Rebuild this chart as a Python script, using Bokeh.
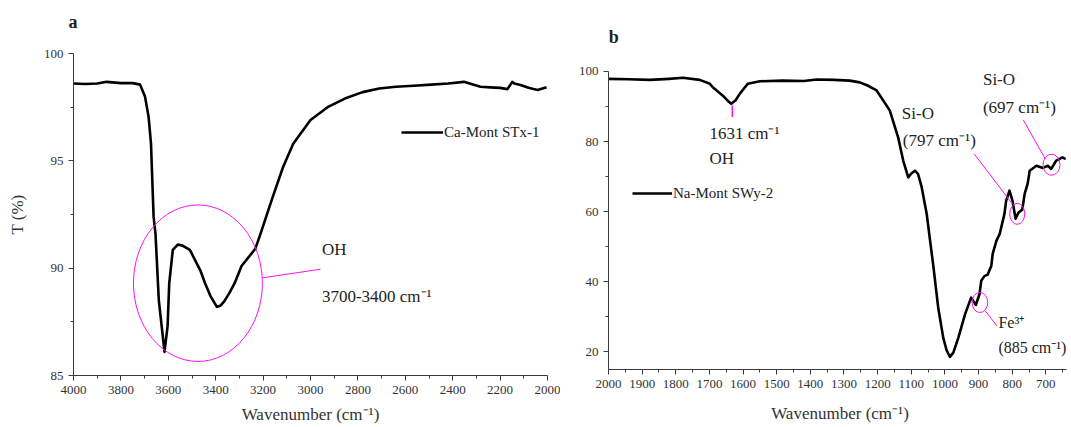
from bokeh.plotting import figure
from bokeh.models import Range1d, FixedTicker, Label, Legend, LegendItem, ColumnDataSource
from bokeh.layouts import row
from bokeh.embed import file_html
from bokeh.resources import INLINE

# ---------------- data ----------------
# Panel a : Ca-Mont STx-1
a_wavenumber = [4000, 3950, 3900, 3860, 3800, 3750, 3719, 3698, 3683, 3673, 3662, 3654, 3640,
                3622, 3616, 3603, 3596, 3581, 3560, 3540, 3509, 3465, 3445, 3422, 3395, 3380,
                3364, 3342, 3320, 3291, 3233, 3211, 3160, 3116, 3073, 3000, 2928, 2855, 2780,
                2710, 2640, 2565, 2490, 2419, 2353, 2283, 2241, 2200, 2169, 2149, 2140, 2114,
                2080, 2042, 2004]
a_T = [98.6, 98.58, 98.6, 98.68, 98.62, 98.62, 98.55, 97.98, 97.04, 95.8, 92.4, 91.6, 88.5,
       86.7, 86.1, 87.3, 89.3, 90.85, 91.1, 91.05, 90.85, 89.9, 89.3, 88.7, 88.2, 88.25,
       88.45, 88.85, 89.3, 90.1, 90.9, 91.6, 93.3, 94.7, 95.8, 96.9, 97.5, 97.9, 98.2,
       98.37, 98.45, 98.5, 98.55, 98.6, 98.68, 98.45, 98.42, 98.4, 98.34, 98.68, 98.6, 98.53,
       98.4, 98.3, 98.43]
a_label = "Ca-Mont STx-1"
a_xticks = [4000, 3800, 3600, 3400, 3200, 3000, 2800, 2600, 2400, 2200, 2000]
a_xticklabels = ["4000", "3800", "3600", "3400", "3200", "3000", "2800", "2600", "2400", "2200", "2000"]
a_yticks = [85, 90, 95, 100]
a_yticklabels = ["85", "90", "95", "100"]

# Panel b : Na-Mont SWy-2
b_wavenumber = [2000, 1940, 1877, 1820, 1779, 1729, 1700, 1690, 1660, 1645, 1635, 1622, 1610,
                1586, 1550, 1482, 1420, 1381, 1330, 1283, 1253, 1230, 1203, 1164, 1139, 1124,
                1109, 1100, 1089, 1080, 1069, 1054, 1044, 1035, 1020, 1005, 995, 985, 975, 960,
                940, 922, 915, 908, 897, 892, 882, 873, 862, 858, 847, 837, 823, 818, 808, 799,
                790, 781, 770, 763, 754, 748, 728, 709, 694, 684, 669, 651, 641]
b_T = [97.9, 97.8, 97.6, 97.9, 98.2, 97.6, 96.6, 95.5, 93.1, 91.6, 90.8, 91.8, 93.6,
       96.5, 97.2, 97.4, 97.3, 97.7, 97.6, 97.4, 96.9, 96.0, 94.6, 88.9, 81.2, 74.6,
       69.8, 70.9, 71.7, 70.8, 67.0, 59.3, 51.7, 45.0, 32.7, 24.1, 20.5, 18.6, 19.8, 24.1,
       30.8, 35.5, 34.5, 33.4, 36.6, 40.3, 41.7, 42.0, 44.6, 48.0, 51.7, 53.7, 59.4, 63.1, 66.0, 63.1,
       58.0, 59.8, 60.6, 65.1, 68.0, 71.7, 73.1, 72.5, 73.1, 72.2, 74.6, 75.5, 75.0]
b_label = "Na-Mont SWy-2"
b_xticks = [2000, 1900, 1800, 1700, 1600, 1500, 1400, 1300, 1200, 1100, 1000, 900, 800, 700]
b_xticklabels = [str(v) for v in b_xticks]
b_yticks = [20, 40, 60, 80, 100]
b_yticklabels = ["20", "40", "60", "80", "100"]

FONT = "Liberation Serif"
PINK = "#ff10f0"
AXC = "#3a3a3a"


def make_fig(width, xr, yr, xb, yb, mbl, mbr, mbt, mbb, title=None):
    p = figure(width=width, height=427, x_range=Range1d(*xr), y_range=Range1d(*yr),
               output_backend="svg", toolbar_location=None, title=title,
               min_border_left=mbl, min_border_right=mbr, min_border_top=mbt,
               min_border_bottom=mbb)
    p.frame_align = False
    p.outline_line_color = None
    p.grid.visible = False
    p.background_fill_color = "white"
    p.xaxis.bounds = xb
    p.yaxis.bounds = yb
    for ax in (p.xaxis[0], p.yaxis[0]):
        ax.axis_line_color = AXC
        ax.axis_line_width = 1
        ax.major_tick_line_color = AXC
        ax.minor_tick_line_color = AXC
        ax.major_tick_in = 0
        ax.major_tick_out = 5
        ax.minor_tick_in = 0
        ax.minor_tick_out = 3
        ax.major_label_text_font = FONT
        ax.major_label_text_font_size = "13px"
        ax.major_label_text_color = "#333333"
        ax.axis_label_text_font = FONT
        ax.axis_label_text_font_style = "normal"
        ax.axis_label_text_font_size = "17px"
        ax.axis_label_text_color = "#333333"
    return p


def set_ticks(axis, ticks, labels, minor):
    axis.ticker = FixedTicker(ticks=ticks, minor_ticks=minor)
    axis.major_label_overrides = {t: l for t, l in zip(ticks, labels)}


def add_text(p, x, y, text, size, bold=False):
    p.add_layout(Label(x=x, y=y, text=text, text_font=FONT, text_font_size=size,
                       text_color="#222222", text_baseline="middle", text_align="left",
                       text_font_style="bold" if bold else "normal"))


# ---------------- panel a ----------------
pa = make_fig(560, (4000, 2000), (85, 100), (2000, 4000), (85, 100), 73, 13, 53, 52,
              title="a\n\u00a0")
pa.title.text_font = FONT
pa.title.text_font_style = "bold"
pa.title.text_font_size = "18px"
pa.title.text_color = "#222222"
pa.title.align = "left"
pa.title.vertical_align = "top"
pa.title.standoff = 0
pa.title.offset = -5
set_ticks(pa.xaxis[0], a_xticks, a_xticklabels, list(range(3900, 2000, -200)))
set_ticks(pa.yaxis[0], a_yticks, a_yticklabels, [87.5, 92.5, 97.5])
pa.xaxis.axis_label = "Wavenumber (cm\u207b\u00b9)"
pa.yaxis.axis_label = "T (%)"
pa.xaxis.axis_label_standoff = 8
pa.yaxis.axis_label_standoff = 14

src_a = ColumnDataSource(dict(x=a_wavenumber, y=a_T))
ra = pa.line("x", "y", source=src_a, line_color="black", line_width=2.6, line_join="round")
pa.ellipse(x=3475, y=89.3, width=544, height=7.29, fill_alpha=0, line_color=PINK, line_width=1)
pa.segment(x0=3203, y0=89.55, x1=2958, y1=89.95, line_color=PINK, line_width=1)
add_text(pa, 2952, 90.88, "OH", "17px")
add_text(pa, 2952, 88.68, "3700-3400 cm\u207b\u00b9", "17px")

leg_a = Legend(items=[LegendItem(label=a_label, renderers=[ra])], location=(328, 233),
               glyph_width=42, glyph_height=20, label_height=20, label_standoff=1,
               padding=0, margin=0, spacing=0, background_fill_alpha=0, border_line_alpha=0,
               label_text_font=FONT, label_text_font_size="15px", label_text_color="#222222")
pa.add_layout(leg_a)

# ---------------- panel b ----------------
pb = make_fig(511, (2000, 623.7), (15, 118.82), (640, 2000), (15, 100), 48, 0, 5, 58)
set_ticks(pb.xaxis[0], b_xticks, b_xticklabels, list(range(1950, 640, -100)))
set_ticks(pb.yaxis[0], b_yticks, b_yticklabels, [30, 50, 70, 90])
pb.xaxis.axis_label = "Wavenumber (cm\u207b\u00b9)"
pb.xaxis.axis_label_standoff = 13

src_b = ColumnDataSource(dict(x=b_wavenumber, y=b_T))
rb = pb.line("x", "y", source=src_b, line_color="black", line_width=2.6, line_join="round")

# annotations panel b
pb.segment(x0=1632, y0=90.3, x1=1632, y1=87.0, line_color=PINK, line_width=1.5)
add_text(pb, 1700, 82.2, "1631 cm\u207b\u00b9", "17px")
add_text(pb, 1700, 75.1, "OH", "17px")
add_text(pb, 1128, 87.9, "Si-O", "17px")
add_text(pb, 1125, 80.3, "(797 cm\u207b\u00b9)", "17px")
add_text(pb, 887, 97.6, "Si-O", "17px")
add_text(pb, 887, 89.8, "(697 cm\u207b\u00b9)", "17px")
add_text(pb, 841, 28.4, "Fe\u00b3\u207a", "16px")
add_text(pb, 841, 21.2, "(885 cm\u207b\u00b9)", "16px")
add_text(pb, 1999, 109.7, "b", "18px", bold=True)
pb.ellipse(x=[683, 785, 896], y=[73.4, 59.4, 34.1], width=[50.5, 44.6, 46.6],
           height=[6.0, 6.0, 5.7], fill_alpha=0, line_color=PINK, line_width=1)
pb.segment(x0=[767, 913, 880], y0=[86.2, 76.5, 31.7], x1=[702, 800, 845], y1=[75.1, 62.3, 27.4],
           line_color=PINK, line_width=1)

leg_b = Legend(items=[LegendItem(label=b_label, renderers=[rb])], location=(24, 166),
               glyph_width=40, glyph_height=20, label_height=20, label_standoff=1,
               padding=0, margin=0, spacing=0, background_fill_alpha=0, border_line_alpha=0,
               label_text_font=FONT, label_text_font_size="15px", label_text_color="#222222")
pb.add_layout(leg_b)

layout = row(pa, pb)
open("out.html", "w").write(file_html(layout, INLINE))
